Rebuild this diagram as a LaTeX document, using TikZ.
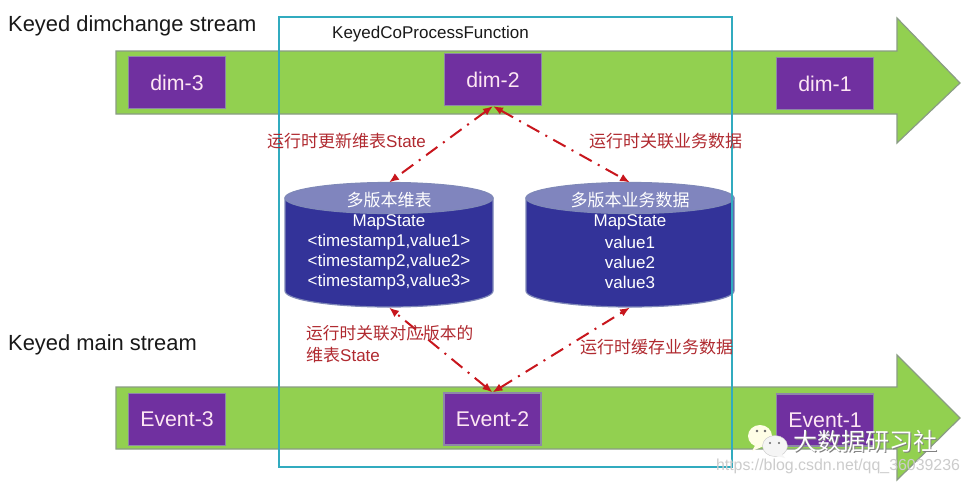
\documentclass[tikz,border=0pt]{standalone}
\usepackage{fontspec}
\setmainfont{Liberation Sans}
\newfontfamily\cjk{Noto Sans CJK SC}
\usetikzlibrary{arrows.meta}
\definecolor{streamgreen}{HTML}{92D050}
\definecolor{streamedge}{HTML}{8A9C84}
\definecolor{boxpurple}{HTML}{7030A0}
\definecolor{boxedge}{HTML}{8E86A8}
\definecolor{cylbody}{HTML}{333399}
\definecolor{cyltop}{HTML}{8085BE}
\definecolor{cyledge}{HTML}{7F88B8}
\definecolor{tealline}{HTML}{31ABBF}
\definecolor{labelred}{HTML}{B02A30}
\definecolor{linkred}{HTML}{C8161D}
\tikzset{
  stream/.style={fill=streamgreen,draw=streamedge,line width=1.2pt,line join=miter},
  evbox/.style={fill=boxpurple,draw=boxedge,line width=1.2pt,minimum width=97pt,minimum height=52pt,inner sep=0pt,text=white!90!magenta,font=\fontsize{21.3}{24}\selectfont},
  heading/.style={anchor=west,inner sep=0pt,font=\fontsize{21.9}{24}\selectfont,text=black!90},
  storebody/.style={fill=cylbody,draw=cyledge,line width=1.2pt},
  storelid/.style={fill=cyltop,draw=cyledge,line width=1.2pt},
  storeanchor/.style={minimum width=208pt,minimum height=125pt,inner sep=0pt,outer sep=0pt},
  storetext/.style={text=white,inner sep=0pt,font=\fontsize{17}{20}\selectfont},
  redlabel/.style={anchor=west,inner sep=0pt,text=labelred,font=\fontsize{17}{20}\selectfont},
  link/.style={{Latex[length=10pt,width=8pt]}-{Latex[length=10pt,width=8pt]},draw=linkred,line width=2pt,dash pattern=on 14pt off 7pt on 2pt off 7pt},
}
\begin{document}
\begin{tikzpicture}[x=1pt,y=-1pt]
\useasboundingbox[fill=white] (0,0) rectangle (969,485);
% streams
\draw[stream] (116,51) -- (897,51) -- (897,18) -- (960,83) -- (897,143) -- (897,114) -- (116,114) -- cycle;
\draw[stream] (116,387) -- (897,387) -- (897,355) -- (960,418) -- (897,480) -- (897,449) -- (116,449) -- cycle;
% boxes
\node[evbox] (dimthree) at (177,82.5) {dim-3};
\node[evbox] (dimtwo) at (493,79.5) {dim-2};
\node[evbox] (dimone) at (825,83.5) {dim-1};
\node[evbox] (evthree) at (177,419.5) {Event-3};
\node[evbox] (evtwo) at (492.5,419) {Event-2};
\node[evbox] (evone) at (825,420) {Event-1};
% stores
\draw[storebody] (285,198) -- (285,291) arc[start angle=180,end angle=360,x radius=104,y radius=-16] -- (493,198) -- cycle;
\draw[storelid] (389,198) ellipse (104pt and 15.5pt);
\draw[storebody] (526,198) -- (526,291) arc[start angle=180,end angle=360,x radius=104,y radius=-16] -- (734,198) -- cycle;
\draw[storelid] (630,198) ellipse (104pt and 15.5pt);
\node[storeanchor] (storeL) at (389,245) {};
\node[storeanchor] (storeR) at (630,245) {};
\node[storetext] (titleL) at (389,200) {\cjk 多版本维表};
\node[storetext] (titleR) at (630,200) {\cjk 多版本业务数据};
\node[storetext] (mapL) at (389,222) {MapState};
\node[storetext] (t1) at (389,242) {<timestamp1,value1>};
\node[storetext] (t2) at (389,262) {<timestamp2,value2>};
\node[storetext] (t3) at (389,282) {<timestamp3,value3>};
\node[storetext] (mapR) at (630,222) {MapState};
\node[storetext] (v1) at (630,242) {value1};
\node[storetext] (v2) at (630,262) {value2};
\node[storetext] (v3) at (630,282) {value3};
% frame
\draw[tealline,line width=1.5pt] (279,17) rectangle (732,467);
% links
\draw[link] (dimtwo.south) -- (storeL.north);
\draw[link] (dimtwo.south) -- (storeR.north);
\draw[link] (evtwo.north) -- (storeL.south);
\draw[link] (evtwo.north) -- (storeR.south);
% labels
\node[heading] (hA) at (8,26) {Keyed dimchange stream};
\node[heading] (hB) at (8,345) {Keyed main stream};
\node[anchor=west,inner sep=0pt,font=\fontsize{17}{18}\selectfont,text=black!90] (fn) at (332,34) {KeyedCoProcessFunction};
\node[redlabel] (lA) at (267,141) {{\cjk 运行时更新维表}State};
\node[redlabel] (lB) at (589,141) {\cjk 运行时关联业务数据};
\node[redlabel,font=\fontsize{16.7}{20}\selectfont] (lC) at (306,333) {\cjk 运行时关联对应版本的};
\node[redlabel] (lD) at (306,355) {{\cjk 维表}State};
\node[redlabel] (lE) at (580,347) {\cjk 运行时缓存业务数据};
% watermark
\fill[white!90!yellow] (760,436) ellipse (12pt and 11pt);
\fill[white!90!yellow] (756,444) -- (752,451) -- (764,446) -- cycle;
\fill[white!92!gray,draw=gray!45,line width=.4pt] (775,446) ellipse (12.5pt and 10.5pt);
\fill[white!92!gray] (781,453) -- (785,458) -- (773,455) -- cycle;
\fill[black!60] (757,431) circle (1.3pt) (765,431) circle (1.3pt) (770,443) circle (1.2pt) (779,443) circle (1.2pt);
\node[inner sep=0pt,text=black!50,font=\fontsize{24}{28}\selectfont] (wmS) at (866,442) {\cjk 大数据研习社};
\node[inner sep=0pt,text=white,font=\fontsize{24}{28}\selectfont] (wm) at (865,441) {\cjk 大数据研习社};
\node[inner sep=0pt,text=gray!40,font=\fontsize{15.9}{18}\selectfont] (url) at (838,466) {https://blog.csdn.net/qq\_36039236};
\end{tikzpicture}
\end{document}
